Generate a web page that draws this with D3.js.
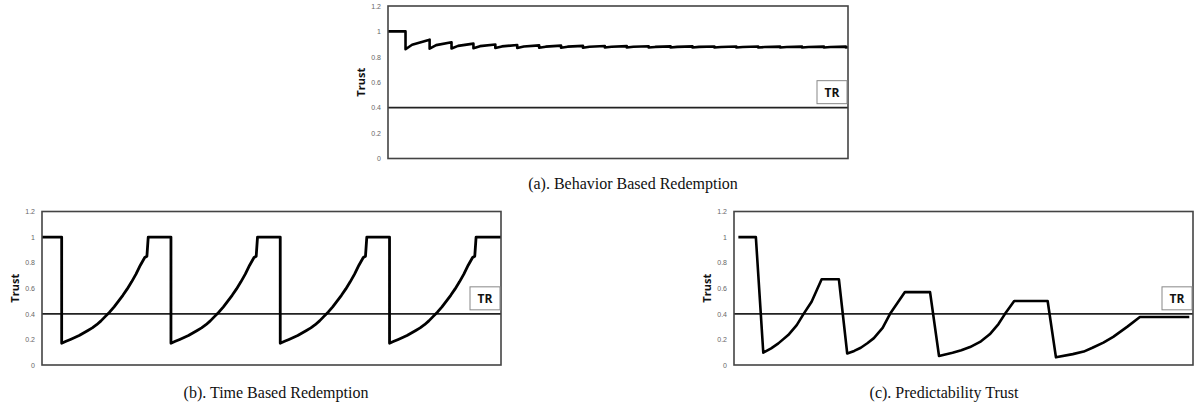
<!DOCTYPE html>
<html>
<head>
<meta charset="utf-8">
<style>
    body { margin: 0; background: #fff; }
    svg { display: block; }
    .caption { font-family: 'Liberation Serif', 'Times New Roman', serif; font-size: 16px; fill: #111; }
    .tick text { font-family: 'Liberation Sans', Arial, sans-serif; font-size: 7px; fill: #666; }
    .ylabel { font-family: 'Open Sans', 'Liberation Sans', sans-serif; font-weight: bold; font-size: 11px; fill: #111; }
    .tr { font-family: 'Open Sans', 'Liberation Sans', sans-serif; font-weight: bold; font-size: 12px; fill: #111; }
</style>
</head>
<body>
<svg width="1199" height="412"></svg>

<script src="https://d3js.org/d3.v7.min.js"></script>
<script>
    // y axis ticks shared by the three panels
    let trustTicks = [0, 0.2, 0.4, 0.6, 0.8, 1, 1.2]
    let trustRed = 0.4   // the TR threshold line

    // (a) behavior based redemption: [time, trust]
    let behaviorData = [
        [0, 1], [8, 1], [8, 0.86], [11, 0.895], [19, 0.935],
        [19, 0.864], [22, 0.892], [29, 0.914],
        [29, 0.866], [32, 0.886], [39, 0.904],
        [39, 0.868], [42, 0.884], [49, 0.897],
        [49, 0.869], [52, 0.882], [59, 0.893],
        [59, 0.87], [62, 0.881], [69, 0.89],
        [69, 0.871], [72, 0.88], [79, 0.888],
        [79, 0.872], [82, 0.88], [89, 0.886],
        [89, 0.872], [92, 0.879], [99, 0.885],
        [99, 0.873], [102, 0.879], [109, 0.884],
        [109, 0.873], [112, 0.879], [119, 0.883],
        [119, 0.873], [122, 0.878], [129, 0.882],
        [129, 0.874], [132, 0.878], [139, 0.882],
        [139, 0.874], [142, 0.878], [149, 0.881],
        [149, 0.874], [152, 0.877], [159, 0.881],
        [159, 0.874], [162, 0.877], [169, 0.881],
        [169, 0.874], [172, 0.877], [179, 0.88],
        [179, 0.874], [182, 0.877], [189, 0.88],
        [189, 0.874], [192, 0.877], [199, 0.88],
        [199, 0.874], [202, 0.877], [209, 0.88],
        [209, 0.874], [210, 0.875]
    ]

    // (b) time based redemption: the same recovery repeats after each drop
    let timeDrops = [9, 59, 109, 159]
    let timeRise = [0.17, 0.185, 0.2, 0.215, 0.23, 0.25, 0.27, 0.29, 0.315, 0.345,
        0.38, 0.415, 0.455, 0.5, 0.545, 0.595, 0.65, 0.71, 0.78, 0.84]

    // (c) predictability trust: [time, trust]
    let predictData = [
        [2, 1], [10, 1], [13.4, 0.096], [17, 0.13], [20.3, 0.169], [24.8, 0.234], [28.7, 0.312],
        [31.7, 0.396], [35.5, 0.495], [38, 0.59], [40.1, 0.67], [48, 0.67],
        [51.8, 0.09], [55, 0.11], [58, 0.135], [61, 0.17], [64, 0.21], [68, 0.29], [71.4, 0.4],
        [75, 0.49], [78.2, 0.57], [89.7, 0.57],
        [93.8, 0.07], [100, 0.095], [104, 0.115], [108, 0.14], [113, 0.185], [117, 0.24],
        [121, 0.32], [124, 0.4], [128.2, 0.5], [143.5, 0.5],
        [147.3, 0.06], [155, 0.085], [160, 0.105], [164, 0.135], [169, 0.175], [173.5, 0.22],
        [180, 0.3], [185.7, 0.375], [208.3, 0.375]
    ]

    // build the (b) series from the drop times and the read recovery values
    let timeData = [[0, 1]]
    timeDrops.forEach(t0 => {
        timeData.push([t0, 1])
        timeRise.forEach((v, i) => timeData.push([t0 + i * 2, v]))
        timeData.push([t0 + 39, 0.85])
        timeData.push([t0 + 39.6, 1])
    })
    timeData.push([210, 1])

    let panels = [
        { data: behaviorData, left: 388, right: 848, top: 6, bottom: 158.5, lw: 2.6,
          caption: "(a). Behavior Based Redemption", capX: 633, capY: 189 },
        { data: timeData, left: 42, right: 501, top: 211.5, bottom: 365, lw: 2.8,
          caption: "(b). Time Based Redemption", capX: 276, capY: 398 },
        { data: predictData, left: 734, right: 1193, top: 211.5, bottom: 365, lw: 2.6,
          caption: "(c). Predictability Trust", capX: 944, capY: 398 }
    ]

    let svg = d3.select("svg")

    panels.forEach(p => {
        let x = d3.scaleLinear().domain([0, 210]).range([p.left, p.right])
        let y = d3.scaleLinear().domain([0, 1.2]).range([p.bottom, p.top])

        let g = svg.append("g")

        // y axis labels only
        let axis = g.append("g")
            .attr("transform", "translate(" + (p.left - 1) + ",0)")
            .call(d3.axisLeft(y).tickValues(trustTicks).tickSize(0).tickPadding(6)
                .tickFormat(d3.format("~g")))
        axis.select(".domain").remove()

        g.append("text")
            .attr("class", "ylabel")
            .attr("text-anchor", "middle")
            .attr("transform", "translate(" + (p.left - 23) + "," + ((p.top + p.bottom) / 2) + ") rotate(-90)")
            .text("Trust")

        // TR threshold
        g.append("line")
            .attr("x1", x(0)).attr("x2", x(210))
            .attr("y1", y(trustRed)).attr("y2", y(trustRed))
            .style("stroke", "#222")
            .style("stroke-width", 1.6)

        // trust line
        let line = d3.line()
            .x(d => x(d[0]))
            .y(d => y(d[1]))

        g.append("path")
            .attr("d", line(p.data))
            .style("fill", "none")
            .style("stroke", "#000")
            .style("stroke-width", p.lw)
            .style("stroke-linejoin", "round")

        // frame
        g.append("rect")
            .attr("x", x(0)).attr("y", y(1.2))
            .attr("width", x(210) - x(0))
            .attr("height", y(0) - y(1.2))
            .style("fill", "none")
            .style("stroke", "#444")
            .style("stroke-width", 1.6)

        // TR label box
        let bx = x(210) - 31
        let by = y(trustRed) - 27
        g.append("rect")
            .attr("x", bx).attr("y", by)
            .attr("width", 30).attr("height", 23)
            .style("fill", "#fff")
            .style("stroke", "#888")
            .style("stroke-width", 1)
        g.append("text")
            .attr("class", "tr")
            .attr("x", bx + 15).attr("y", by + 16)
            .attr("text-anchor", "middle")
            .text("TR")

        svg.append("text")
            .attr("class", "caption")
            .attr("x", p.capX).attr("y", p.capY)
            .attr("text-anchor", "middle")
            .text(p.caption)
    })
</script>
</body>
</html>
